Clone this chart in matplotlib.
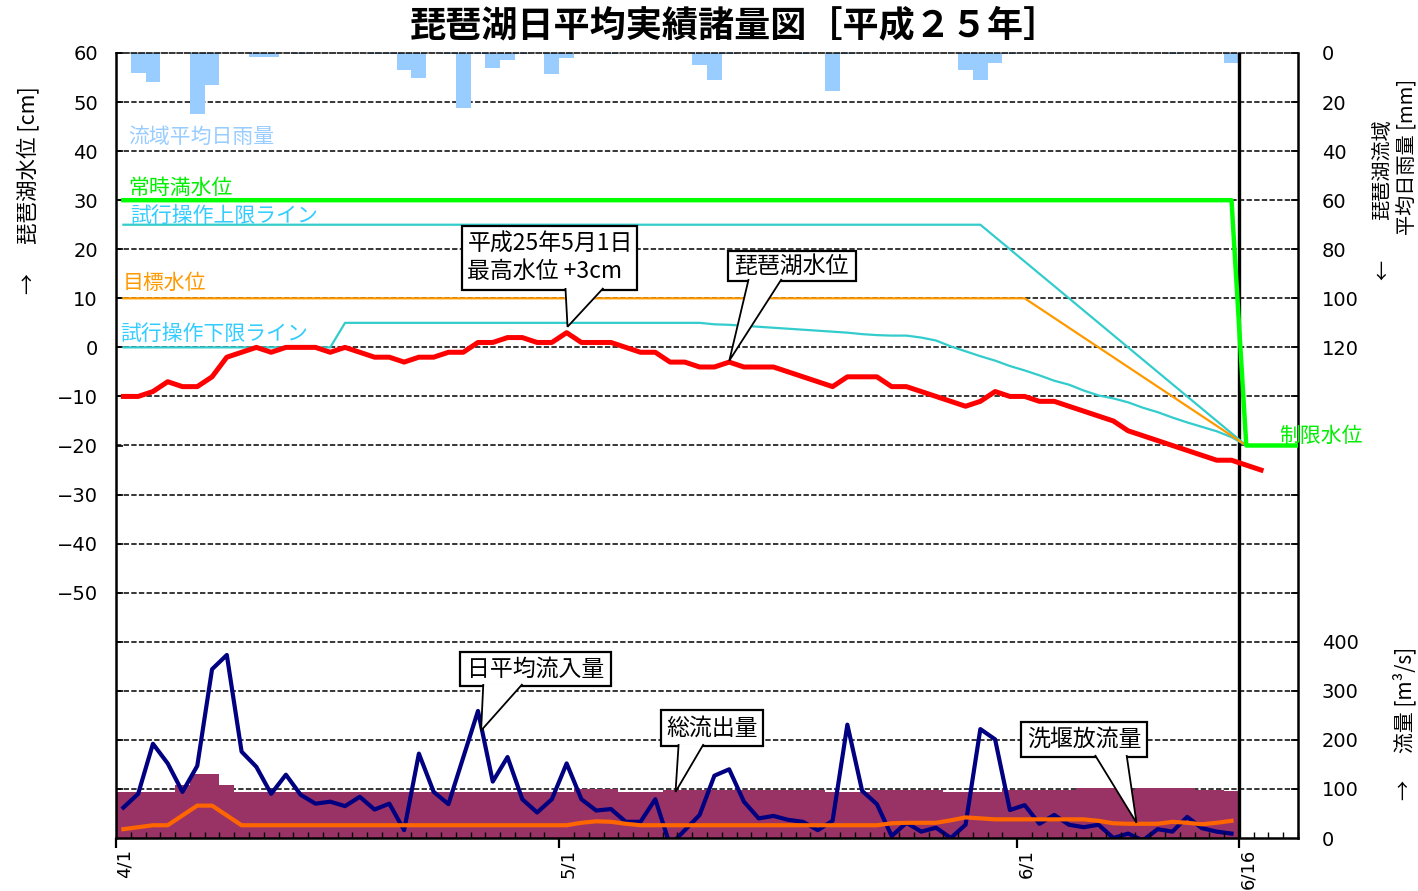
"""琵琶湖日平均実績諸量図 (平成25年) の再現."""

from datetime import datetime

import matplotlib

matplotlib.use("Agg")
import matplotlib.dates as mdates
import matplotlib.pyplot as plt
import matplotlib.transforms as mtransforms
import numpy as np
from matplotlib.patches import Polygon, Rectangle
from matplotlib.ticker import FuncFormatter

plt.rcParams["font.family"] = ["Noto Sans CJK JP", "DejaVu Sans"]

# ---- データ (4/1 から日毎) ----
# 琵琶湖水位 [cm]
level = [-10, -10, -9, -7, -8, -8, -6, -2, -1, 0,
         -1, 0, 0, 0, -1, 0, -1, -2, -2, -3,
         -2, -2, -1, -1, 1, 1, 2, 2, 1, 1,
         3, 1, 1, 1, 0, -1, -1, -3, -3, -4,
         -4, -3, -4, -4, -4, -5, -6, -7, -8, -6,
         -6, -6, -8, -8, -9, -10, -11, -12, -11, -9,
         -10, -10, -11, -11, -12, -13, -14, -15, -17, -18,
         -19, -20, -21, -22, -23, -23, -24, -25]

# 常時満水位 / 制限水位 [cm]
full_level = [30] * 76 + [-20] * 5

# 試行操作上限ライン [cm]
upper_line = [25] * 59 + [22.5, 20, 17.5, 15, 12.5, 10, 7.5, 5, 2.5, 0,
                          -2.5, -5, -7.5, -10, -12.5, -15, -17.5, -20]

# 目標水位 [cm]
target_level = [10] * 62 + [8, 6, 4, 2, 0, -2, -4, -6, -8, -10,
                            -12, -14, -16, -18, -20]

# 試行操作下限ライン [cm]
lower_line = [0] * 15 + [5] * 24 + [5.0, 4.7, 4.6, 4.4, 4.2, 4.0, 3.8, 3.6, 3.4, 3.2,
                                    3.0, 2.7, 2.5, 2.4, 2.4, 2.0, 1.4, 0.2, -0.8, -1.8,
                                    -2.7, -3.8, -4.7, -5.7, -6.8, -7.6, -8.8, -9.8, -10.4,
                                    -11.2, -12.3, -13.2, -14.3, -15.3, -16.2, -17.1,
                                    -18.3, -20.0]

# 流域平均日雨量 [mm]
rain = [0, 8, 12, 0, 0, 25, 13, 0, 0, 1.5,
        1.5, 0, 0.5, 0, 0, 0, 0, 0.5, 0.5, 7,
        10, 0, 0.5, 22.5, 0.5, 6, 3, 0.5, 0, 8.5,
        2, 0, 0, 0.5, 0, 0, 0, 0, 0, 5,
        11, 0.5, 0, 0, 0, 0, 0.5, 0, 15.5, 0.5,
        0, 0, 0, 0, 0, 0, 0, 7, 11, 4,
        0.5, 0, 0, 0, 0, 0, 0, 0, 0, 0,
        0, 0.5, 0, 0, 0, 4, 0]

# 日平均流入量 [m3/s]
inflow = [62, 90, 192, 152, 94, 147, 344, 373, 176, 145,
          90, 129, 88, 70, 74, 65, 84, 58, 70, 16,
          172, 94, 69, 164, 259, 115, 165, 79, 52, 79,
          152, 79, 56, 59, 33, 33, 79, -15, 16, 47,
          127, 140, 74, 40, 45, 37, 33, 16, 35, 231,
          96, 69, 4, 31, 13, 21, 0, 27, 222, 201,
          57, 67, 29, 47, 27, 22, 27, 0, 9, -5,
          18, 13, 43, 20, 13, 9]

# 総流出量 [m3/s]
outflow = ([93] * 4 + [108, 130, 130, 109] + [93] * 23 + [100] * 3 + [94] * 3
           + [97] * 11 + [94] * 3 + [97] * 5 + [94] * 4 + [97] * 5 + [101] * 3
           + [97] + [101] * 4 + [97] * 2 + [96])

# 洗堰放流量 [m3/s]
release = ([18, 22, 26, 26, 46, 66, 66, 46] + [26] * 23 + [31, 34, 33, 29] + [26] * 17
           + [30, 31, 31, 31, 36, 42, 40] + [38] * 7
           + [35, 30, 29, 29, 29, 33, 31, 28, 31, 35])

TICK_DATES = [(4, 1), (5, 1), (6, 1), (6, 16)]
TICK_LABELS = ["4/1", "5/1", "6/1", "6/16"]
LEFT_TICKS = list(range(-50, 61, 10))
RAIN_TICKS = list(range(0, 121, 20))
FLOW_TICKS = list(range(0, 401, 100))

YEAR = 2013
start = mdates.date2num(datetime(YEAR, 4, 1))
end = mdates.date2num(datetime(YEAR, 6, 20))


def centers(values):
    return start + np.arange(len(values)) + 0.5


def edges(values):
    return start + np.arange(len(values) + 1)


fig = plt.figure(figsize=(14.18, 8.91), dpi=100)
ax = fig.add_axes([116 / 1418, 53 / 891, 1182 / 1418, 785 / 891])
ax_rain = ax.twinx()
ax_flow = ax.twinx()
# 水位軸を最前面に (目盛・枠・吹き出しが塗りの上に来る)
ax.set_zorder(3)
ax.patch.set_visible(False)

# グリッド (最背面の軸に描き、総流出量の塗りの下になるようにする)
ax_rain.hlines(list(range(-90, 51, 10)), 0, 1, transform=ax.get_yaxis_transform(),
               colors="black", lw=1.1, linestyles=[(0, (3.5, 1.5))], zorder=0.5)

# 水位系
ax.plot(centers(upper_line), upper_line, color="#33CCCC", lw=1.6, zorder=3)
ax.plot(centers(lower_line), lower_line, color="#33CCCC", lw=1.6, zorder=3)
ax.plot(centers(target_level), target_level, color="#FF9900", lw=1.6, zorder=3)
ax.plot(centers(full_level), full_level, color="#00FF00", lw=3.2, zorder=4)
ax.plot(centers(level), level, color="#FF0000", lw=3.6, zorder=5)

# 雨量
ax_rain.stairs(rain, edges(rain), fill=True, color="#99CCFF", baseline=0)

# 流量
ax_flow.stairs(outflow, edges(outflow), fill=True, color="#993366", baseline=0)
ax_flow.plot(centers(inflow), inflow, color="#000080", lw=3.0, zorder=3)
ax_flow.plot(centers(release), release, color="#FF6600", lw=3.0, zorder=3)
ax_flow.axvline(mdates.date2num(datetime(YEAR, 6, 16)), color="black", lw=2.4, zorder=6)

# 軸
ax.set_xlim(start, end)
ax.set_ylim(-100, 60)
ax_rain.set_ylim(320, 0)
ax_flow.set_ylim(0, 1600)

ax.set_yticks(list(range(-90, 61, 10)))
ax.yaxis.set_major_formatter(
    FuncFormatter(lambda v, p: f"{v:.0f}".replace("-", "\u2212") if v >= min(LEFT_TICKS) else ""))
ax.tick_params(axis="y", direction="in", length=5, width=1.2, pad=13, labelsize=14,
               right=True, labelright=False)

ax_rain.set_yticks(RAIN_TICKS)
ax_rain.tick_params(axis="y", length=0, pad=17, labelsize=14)
ax_flow.set_yticks(FLOW_TICKS)
ax_flow.tick_params(axis="y", length=0, pad=17, labelsize=14)

ax.set_xticks([mdates.date2num(datetime(YEAR, m, d)) for m, d in TICK_DATES],
              labels=TICK_LABELS)
ax.xaxis.set_minor_locator(mdates.DayLocator())
ax.tick_params(axis="x", which="major", direction="out", length=7, width=1.6, pad=1,
               labelrotation=90, labelsize=13)
ax.tick_params(axis="x", which="minor", direction="in", length=4, width=1.0)

shift = mtransforms.ScaledTranslation(9 / 100, 0, fig.dpi_scale_trans)
for lab in ax.get_xticklabels():
    lab.set_transform(lab.get_transform() + shift)
    lab.set_fontfamily("DejaVu Sans")
for a in (ax, ax_rain, ax_flow):
    for lab in a.get_yticklabels():
        lab.set_fontfamily("DejaVu Sans")

for side in ("left", "bottom", "right"):
    ax.spines[side].set_linewidth(1.8)
ax.spines["top"].set_linewidth(1.1)
ax.spines["top"].set_linestyle((0, (3.5, 1.5)))
for a in (ax_rain, ax_flow):
    for s in a.spines.values():
        s.set_visible(False)

# 系列名
labels = [
    ("流域平均日雨量", 0.81, 42.9, "#99CCFF"),
    ("常時満水位", 0.81, 32.5, "#00EE00"),
    ("試行操作上限ライン", 0.95, 26.8, "#33CCFF"),
    ("目標水位", 0.47, 13.1, "#FF9900"),
    ("試行操作下限ライン", 0.27, 2.7, "#33CCFF"),
    ("制限水位", 78.73, -18.1, "#00EE00"),
]
for text, dx, y, color in labels:
    ax.text(start + dx, y, text, color=color, fontsize=15, ha="left", va="center",
            zorder=6)


def callout(text, box, base, tip, align="center"):
    """吹き出し (箱 + くさび形の引き出し線)."""
    x0, x1, y0, y1 = box
    ax.add_patch(Rectangle((start + x0, y0), x1 - x0, y1 - y0,
                           facecolor="white", edgecolor="black", lw=1.6, zorder=10))
    ax.add_patch(Polygon([(start + base[0], y0 + 0.4), (start + tip[0], tip[1]),
                          (start + base[1], y0 + 0.4)], closed=False,
                         facecolor="white", edgecolor="black", lw=1.3, zorder=11))
    if align == "left":
        tx = start + x0 + 0.35
    else:
        tx = start + (x0 + x1) / 2
    ax.text(tx, (y0 + y1) / 2, text, ha=align, va="center",
            fontsize=16.5, zorder=12, linespacing=1.25)


callout("平成25年5月1日\n最高水位 +3cm", (23.44, 35.23, 11.7, 24.75), (30.42, 32.99),
        (30.56, 4.2), align="left")
callout("琵琶湖水位", (41.40, 50.07, 13.53, 19.65), (42.82, 45.05), (41.51, -2.7))
callout("日平均流入量", (23.31, 33.47, -69.02, -62.09), (24.86, 27.51), (24.71, -78.1))
callout("総流出量", (36.86, 43.77, -81.26, -73.92), (38.08, 39.77), (37.87, -90.6))
callout("洗堰放流量", (61.25, 69.78, -83.49, -76.36), (66.26, 68.40), (69.07, -96.9))

ax.set_xlim(start, end)
ax.set_ylim(-100, 60)

# 軸ラベル・タイトル
W, H = 1418, 891
fig.text(28 / W, 1 - 165 / H, "琵琶湖水位 [cm]", rotation=90, ha="center", va="center",
         fontsize=15.5)
fig.text(28 / W, 1 - 284 / H, "→", rotation=90, ha="center", va="center", fontsize=15)
fig.text(1383 / W, 1 - 170 / H, "琵琶湖流域", rotation=90, ha="center", va="center",
         fontsize=14.5)
fig.text(1384 / W, 1 - 270 / H, "←", rotation=90, ha="center", va="center", fontsize=14.5)
fig.text(1408 / W, 1 - 157 / H, "平均日雨量 [mm]", rotation=90, ha="center", va="center",
         fontsize=14.5)
fig.text(1405 / W, 1 - 700 / H, "流量 [m³/s]", rotation=90, ha="center", va="center",
         fontsize=15)
fig.text(1405 / W, 1 - 790 / H, "→", rotation=90, ha="center", va="center", fontsize=14.5)

fig.text(735 / W, 1 - 26 / H, "琵琶湖日平均実績諸量図［平成２５年］", ha="center",
         va="center", fontsize=26, fontweight="bold")

fig.savefig("out.png", dpi=100)
